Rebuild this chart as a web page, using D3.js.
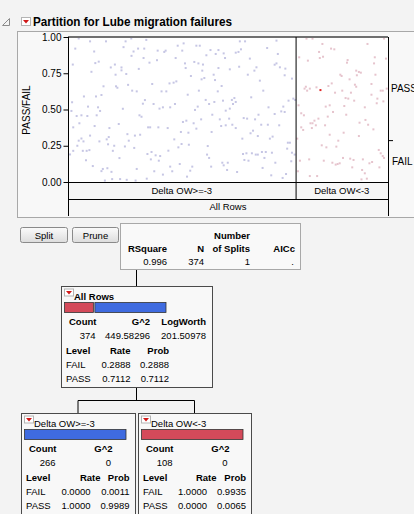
<!DOCTYPE html>
<html><head><meta charset="utf-8">
<script src="https://cdn.jsdelivr.net/npm/d3@7"></script>
<style>
html,body{margin:0;padding:0;background:#f3f3f3;}
svg{display:block;font-family:"Liberation Sans",Arial,sans-serif;}
</style></head><body>
<svg id="chart" width="414" height="514"></svg>
<script>
// ---- data ----
const levels = ["FAIL", "PASS"];
const nodeNames = ["All Rows", "Delta OW>=-3", "Delta OW<-3"];
const nodeCounts = [374, 266, 108];
const nodeG2 = ["449.58296", "0", "0"];
const rootLogWorth = "201.50978";
const nodeRates = [[0.2888, 0.7112], [0.0000, 1.0000], [1.0000, 0.0000]];
const nodeProbs = [[0.2888, 0.7112], [0.0011, 0.9989], [0.9935, 0.0065]];
const summaryHeaders = ["RSquare", "N", "of Splits", "AICc"];
const summaryValues = ["0.996", "374", "1", "."];
const yTicks = [0, 0.25, 0.5, 0.75, 1];

// jittered rows inside each leaf: [position within leaf (0-1), PASS/FAIL value]
const leftLeafPoints = [
[.047,.99],[.097,.97],[.167,.97],[.253,.97],[.278,.99],[.032,.92],[.115,.90],[.244,.93],[.288,.90],[.308,.92],[.335,.92],[.279,.87],[.332,.855],[.021,.81],[.120,.82],[.135,.83],[.188,.79],[.206,.81],[.235,.79],[.235,.77],[.311,.78],[.103,.76],[.209,.74],[.256,.745],[.156,.66],[.211,.66],[.217,.65],[.264,.67],[.282,.63],[.302,.625],[.070,.59],[.123,.59],[.147,.60],[.338,.565],[.018,.55],[.329,.54],[.088,.52],[.132,.515],[.141,.49],[.241,.505],[.015,.49],[.038,.455],[.059,.46],[.085,.455],[.126,.46],[.314,.46],[.323,.45],[.050,.405],[.223,.40],[.023,.377],[.117,.386],[.182,.372],[.097,.32],[.261,.33],[.294,.32],[.317,.326],[.059,.30],[.179,.31],[.047,.285],[.068,.28],[.138,.28],[.170,.294],[.267,.285],[.041,.25],[.176,.26],[.203,.25],[.250,.245],[.291,.235],[.023,.215],[.065,.215],[.082,.215],[.094,.22],[.197,.215],[.009,.19],[.226,.165],[.079,.15],[.109,.11],[.147,.075],[.153,.09],[.173,.095],[.191,.07],[.302,.09],[.162,.01],[.194,.02],[.229,.02],[.258,.015],[.297,.01],
[.344,.98],[.482,.94],[.508,.956],[.564,.94],[.579,.94],[.394,.906],[.423,.897],[.429,.906],[.502,.906],[.626,.91],[.661,.91],[.608,.874],[.649,.883],[.684,.887],[.391,.84],[.473,.855],[.358,.823],[.514,.818],[.555,.828],[.573,.818],[.593,.81],[.517,.786],[.661,.786],[.590,.768],[.640,.74],[.540,.731],[.599,.717],[.587,.708],[.646,.703],[.476,.694],[.464,.685],[.446,.68],[.370,.676],[.675,.662],[.526,.602],[.411,.625],[.432,.625],[.575,.63],[.658,.625],[.605,.566],[.681,.561],[.643,.552],[.376,.538],[.470,.538],[.620,.538],[.570,.52],[.417,.515],[.402,.506],[.449,.515],[.558,.497],[.634,.464],[.667,.432],[.505,.414],[.520,.423],[.552,.405],[.585,.432],[.673,.386],[.352,.377],[.361,.377],[.397,.377],[.438,.372],[.564,.368],[.496,.345],[.529,.34],[.631,.345],[.467,.294],[.499,.262],[.485,.239],[.531,.257],[.614,.248],[.441,.216],[.367,.207],[.349,.193],[.385,.184],[.405,.179],[.611,.189],[.364,.156],[.399,.147],[.620,.166],[.491,.124],[.449,.106],[.546,.106],[.629,.106],[.678,.133],[.684,.115],[.458,.074],[.537,.078],[.379,.074],[.417,.051],[.346,.023],[.523,.037],
[.755,.97],[.778,.97],[.916,.975],[.760,.915],[.737,.892],[.749,.897],[.875,.924],[.922,.883],[.690,.855],[.799,.851],[.916,.818],[.908,.809],[.931,.791],[.955,.782],[.828,.791],[.819,.768],[.752,.795],[.711,.777],[.790,.74],[.952,.736],[.984,.713],[.843,.699],[.858,.63],[.805,.584],[.731,.579],[.720,.566],[.737,.552],[.725,.538],[.990,.575],[.969,.561],[.998,.566],[.881,.515],[.946,.52],[.693,.492],[.711,.506],[.937,.487],[.952,.483],[.908,.469],[.837,.464],[.772,.441],[.787,.437],[.708,.437],[.822,.432],[.693,.391],[.722,.395],[.849,.395],[.878,.395],[.928,.391],[.737,.372],[.813,.354],[.802,.336],[.834,.317],[.899,.313],[.887,.299],[.766,.299],[.966,.271],[.975,.271],[.963,.23],[.769,.193],[.784,.198],[.808,.198],[.825,.189],[.834,.189],[.852,.207],[.869,.207],[.896,.202],[.863,.166],[.984,.202],[.996,.189],[.775,.152],[.793,.147],[.911,.133],[.981,.143],[.702,.133],[.699,.083],[.743,.069],[.855,.097],[.958,.055],[.893,.046],[.943,.028]
];
const rightLeafPoints = [
[.118,.989],[.183,.989],[.957,.989],[.290,.952],[.384,.92],[.419,.915],[.778,.952],[.254,.897],[.039,.86],[.133,.837],[.262,.855],[.297,.864],[.563,.841],[.556,.823],[.857,.86],[.978,.851],[.849,.818],[.656,.768],[.685,.759],[.706,.754],[.484,.74],[.498,.731],[.864,.74],[.584,.708],[.663,.736],[.391,.68],[.642,.671],[.656,.657],[.821,.676],[.111,.657],[.154,.644],[.226,.653],[.097,.644],[.125,.63],[.355,.662],[.427,.616],[.505,.63],[.599,.616],[.821,.602],[.921,.63],[.943,.63],[.986,.644],[.541,.579],[.570,.575],[.885,.575],[.634,.561],[.950,.556],[.878,.543],[.032,.529],[.326,.52],[.369,.529],[.527,.524],[.749,.515],[.405,.483],[.061,.474],[.090,.46],[.548,.464],[.247,.437],[.348,.451],[.204,.423],[.161,.405],[.183,.405],[.219,.391],[.319,.391],[.692,.409],[.756,.428],[.785,.395],[.061,.377],[.082,.359],[.176,.372],[.842,.363],[.520,.34],[.369,.326],[.685,.317],[.462,.285],[.018,.299],[.283,.253],[.333,.239],[.441,.244],[.900,.221],[.921,.198],[.943,.179],[.957,.166],[.513,.166],[.591,.161],[.627,.152],[.728,.156],[.047,.147],[.147,.156],[.305,.147],[.398,.133],[.434,.12],[.455,.124],[.477,.129],[.799,.129],[.828,.138],[.907,.101],[.613,.101],[.025,.074],[.720,.083],[.749,.06],[.154,.041],[.233,.041],[.771,.023],[.713,.018]
];
const selectedPoint = [.269, .634];

// ---- drawing ----
const FONT = 9.5;
const svg = d3.select("#chart");
svg.append("rect").attr("width", 414).attr("height", 514).attr("fill", "#f3f3f3");

function menuIcon(g, x, y, w, h) {
  g.append("rect").attr("x", x + .5).attr("y", y + .5).attr("width", w).attr("height", h)
    .attr("fill", "#fff").attr("stroke", "#b4b4b4");
  const cx = x + .5 + w / 2;
  g.append("path")
    .attr("d", `M${cx - 3},${y + h / 2 - 1} L${cx + 3},${y + h / 2 - 1} L${cx},${y + h / 2 + 2.5} Z`)
    .attr("fill", "#d01818");
}

// report title
svg.append("path").attr("d", "M9.5,18.5 L9.5,25.5 L2.5,25.5 Z").attr("fill", "none").attr("stroke", "#8c8c8c");
menuIcon(svg, 21, 17, 9, 8);
svg.append("text").attr("x", 33).attr("y", 25.5).attr("font-size", 12).attr("font-weight", "bold")
  .attr("textLength", 199).attr("lengthAdjust", "spacingAndGlyphs")
  .text("Partition for Lube migration failures");

// outline panel
svg.append("rect").attr("x", 17.5).attr("y", 31.5).attr("width", 420).attr("height", 186)
  .attr("fill", "#f8f8f8").attr("stroke", "#a8a8a8");

const plotL = 68, plotR = 388, plotT = 37, plotB = 182, row1B = 199, row2B = 216;
const totalN = nodeCounts[0];
const xRows = d3.scaleLinear().domain([0, totalN]).range([plotL, plotR]);
const y = d3.scaleLinear().domain([0, 1]).range([plotB, plotT]);
const splitRow = nodeCounts[1];

svg.append("rect").attr("x", plotL).attr("y", plotT).attr("width", plotR - plotL).attr("height", plotB - plotT).attr("fill", "#fff");
svg.append("rect").attr("x", plotL).attr("y", plotB).attr("width", plotR - plotL).attr("height", row2B - plotB).attr("fill", "#f6f6f6");

// points
const pts = svg.append("g");
pts.selectAll(".pl").data(leftLeafPoints).join("rect")
  .attr("x", d => xRows(d[0] * nodeCounts[1]) - 1).attr("y", d => y(d[1]) - 1)
  .attr("width", 2).attr("height", 2).attr("fill", "#c6c6e4");
pts.selectAll(".pr").data(rightLeafPoints).join("rect")
  .attr("x", d => xRows(splitRow + d[0] * nodeCounts[2]) - 1).attr("y", d => y(d[1]) - 1)
  .attr("width", 2).attr("height", 2).attr("fill", "#e6c4cd");
pts.append("rect").attr("x", xRows(splitRow + selectedPoint[0] * nodeCounts[2]) - 1).attr("y", y(selectedPoint[1]) - 1)
  .attr("width", 2).attr("height", 2).attr("fill", "#e02828");

// frame lines
const ln = (x1, y1, x2, y2, c, w) => svg.append("line").attr("x1", x1).attr("y1", y1).attr("x2", x2).attr("y2", y2)
  .attr("stroke", c || "#000").attr("stroke-width", w || 1);
ln(plotL, plotT, plotR, plotT, "#707070", 2);
ln(plotL, plotB + .5, plotR, plotB + .5, "#000");
ln(plotL, row1B + .5, plotR, row1B + .5, "#000");
ln(xRows(splitRow) + .5, plotT, xRows(splitRow) + .5, row1B, "#000");
ln(plotL + .5, plotT, plotL + .5, row2B, "#000");
ln(plotR + .5, plotT, plotR + .5, row2B, "#000");

// y axis
const yAxis = svg.append("g").attr("transform", `translate(${plotL + .5},0)`)
  .call(d3.axisLeft(y).tickValues(yTicks).tickFormat(d3.format(".2f")).tickSize(5).tickPadding(2));
yAxis.select(".domain").remove();
yAxis.selectAll("text").attr("font-size", 10).attr("font-family", "Liberation Sans, Arial, sans-serif").attr("fill", "#000");
yAxis.selectAll("line").attr("stroke", "#000");
svg.append("text").attr("transform", "translate(30,110) rotate(-90)").attr("text-anchor", "middle")
  .attr("font-size", 10).text("PASS/FAIL");

// right-hand level labels at the middle of each overall band
const failRate = nodeRates[0][0];
ln(plotR, y(failRate) + .5, plotR + 5, y(failRate) + .5, "#000");
svg.append("text").attr("x", plotR + 3).attr("y", y((failRate + 1) / 2)).attr("dy", "0.35em").attr("font-size", 10).text(levels[1]);
svg.append("text").attr("x", plotR + 4).attr("y", y(failRate / 2)).attr("dy", "0.35em").attr("font-size", 10).text(levels[0]);

// leaf/root labels under the plot
svg.append("text").attr("x", (xRows(0) + xRows(splitRow)) / 2).attr("y", 194).attr("text-anchor", "middle").attr("font-size", FONT).text(nodeNames[1]);
svg.append("text").attr("x", (xRows(splitRow) + xRows(totalN)) / 2).attr("y", 194).attr("text-anchor", "middle").attr("font-size", FONT).text(nodeNames[2]);
svg.append("text").attr("x", (plotL + plotR) / 2).attr("y", 210).attr("text-anchor", "middle").attr("font-size", FONT).text(nodeNames[0]);

// buttons
const defs = svg.append("defs");
const grad = defs.append("linearGradient").attr("id", "btn").attr("x1", 0).attr("y1", 0).attr("x2", 0).attr("y2", 1);
grad.append("stop").attr("offset", 0).attr("stop-color", "#fbfbfb");
grad.append("stop").attr("offset", 1).attr("stop-color", "#dcdcdc");
[["Split", 20, 47], ["Prune", 72, 46]].forEach(([t, x, w]) => {
  svg.append("rect").attr("x", x + .5).attr("y", 227.5).attr("width", w).attr("height", 15).attr("rx", 2)
    .attr("fill", "url(#btn)").attr("stroke", "#8a8a8a");
  svg.append("text").attr("x", x + w / 2 + .5).attr("y", 239).attr("text-anchor", "middle").attr("font-size", FONT).text(t);
});

// summary table
svg.append("rect").attr("x", 120.5).attr("y", 223.5).attr("width", 180).attr("height", 46).attr("fill", "#f9f9f9").attr("stroke", "#a8a8a8");
const sumRight = [167, 204, 250, 295];
svg.append("text").attr("x", sumRight[2]).attr("y", 238.5).attr("text-anchor", "end").attr("font-size", FONT).attr("font-weight", "bold").text("Number");
summaryHeaders.forEach((h, i) => svg.append("text").attr("x", sumRight[i]).attr("y", 251.5).attr("text-anchor", "end")
  .attr("font-size", FONT).attr("font-weight", "bold").text(h));
summaryValues.forEach((v, i) => svg.append("text").attr("x", sumRight[i] - (i === 3 ? 1 : 0)).attr("y", 265).attr("text-anchor", "end")
  .attr("font-size", FONT).text(v));

// tree connectors
const rootBox = {x: 61, y: 286, w: 151, h: 101};
const leafBoxes = [{x: 21, y: 413, w: 114, h: 120}, {x: 138, y: 413, w: 113, h: 120}];
const rootCx = rootBox.x + rootBox.w / 2;
ln(rootCx, 270, rootCx, rootBox.y, "#000");
ln(rootCx, rootBox.y + rootBox.h, rootCx, 400.5, "#000");
const leafCx = leafBoxes.map(b => b.x + b.w / 2);
ln(leafCx[0], 400.5, leafCx[1], 400.5, "#000");
leafCx.forEach(cx => ln(cx, 400.5, cx, 413, "#000"));

const levelColors = ["#d44a5a", "#3f6be0"];
const barW = d3.scaleLinear().domain([0, 1]).range([0, 100]);

function drawNode(i, box, cols, bold) {
  const g = svg.append("g").attr("transform", `translate(${box.x},${box.y})`);
  g.append("rect").attr("x", .5).attr("y", .5).attr("width", box.w).attr("height", box.h)
    .attr("fill", "#f8f8f8").attr("stroke", "#4a4a4a");
  menuIcon(g, 3, 2.5, 9, 7);
  g.append("text").attr("x", 13).attr("y", 13.5).attr("font-size", FONT)
    .attr("font-weight", bold ? "bold" : "normal").text(nodeNames[i]);
  // level share bar
  let bx = 3.5;
  nodeRates[i].forEach((r, k) => {
    if (r <= 0) return;
    g.append("rect").attr("x", bx).attr("y", 16.5).attr("width", barW(r) + (r === 1 ? 1.5 : 0)).attr("height", 10)
      .attr("fill", levelColors[k]).attr("stroke", "#333").attr("stroke-width", .8);
    bx += barW(r) + 1.5;
  });
  const t = (x, yy, s, anchor, b) => g.append("text").attr("x", x).attr("y", yy).attr("text-anchor", anchor || "end")
    .attr("font-size", FONT).attr("font-weight", b ? "bold" : "normal").text(s);
  t(8, 39, "Count", "start", true);
  t(cols.g2, 39, "G^2", "end", true);
  t(34.5, 53, String(nodeCounts[i]));
  t(cols.g2v, 53, nodeG2[i]);
  if (cols.lw) { t(cols.lw, 39, "LogWorth", "end", true); t(cols.lw, 53, rootLogWorth); }
  t(5, 67.5, "Level", "start", true);
  t(cols.rate, 67.5, "Rate", "end", true);
  t(cols.prob, 67.5, "Prob", "end", true);
  levels.forEach((lv, k) => {
    const yy = 81.5 + k * 14;
    t(5, yy, lv, "start");
    t(cols.rateV, yy, nodeRates[i][k].toFixed(4));
    t(cols.prob, yy, nodeProbs[i][k].toFixed(4));
  });
}
drawNode(0, rootBox, {g2: 89, g2v: 89, lw: 145, rate: 69.5, rateV: 69.5, prob: 108}, true);
drawNode(1, leafBoxes[0], {g2: 91.5, g2v: 90, rate: 79.5, rateV: 69.5, prob: 108.5}, false);
drawNode(2, leafBoxes[1], {g2: 91.5, g2v: 89.5, rate: 78.5, rateV: 69, prob: 108}, false);
</script>
</body></html>
